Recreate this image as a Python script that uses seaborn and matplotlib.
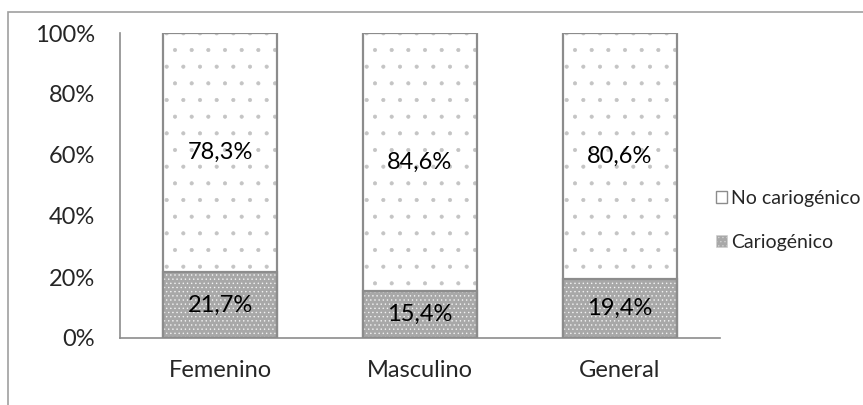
import pandas as pd
import numpy as np
import seaborn as sns
import matplotlib.pyplot as plt
from matplotlib.patches import Patch, Rectangle

# Datos del grafico
grupos = ['Femenino', 'Masculino', 'General']
cariogenico = [21.7, 15.4, 19.4]
no_cariogenico = [78.3, 84.6, 80.6]

BORDE = '#8c8c8c'
GRIS = '#a8a8a8'
FONT = 17

sns.set_style('white')
plt.rcParams['font.family'] = ['Lato', 'DejaVu Sans']
plt.rcParams['hatch.linewidth'] = 0.5

df = pd.DataFrame({'grupo': grupos, 'cario': cariogenico, 'no_cario': no_cariogenico})
df['total'] = df['cario'] + df['no_cario']

fig = plt.figure(figsize=(8.63, 4.05), dpi=100)
ax = fig.add_axes([120 / 863, 67 / 405, 600 / 863, 305 / 405])

# barra completa (no cariogenico) y encima la parte cariogenica
sns.barplot(data=df, x='grupo', y='total', color='white', width=0.57, ax=ax,
            edgecolor='#c4c4c4', linewidth=0)
n = len(grupos)
for p in ax.patches[:n]:
    p.set_hatch('.')
sns.barplot(data=df, x='grupo', y='cario', color=GRIS, width=0.57, ax=ax,
            edgecolor='#f2f2f2', linewidth=0)
for p in ax.patches[n:2 * n]:
    p.set_hatch('....')

# contornos
sns.barplot(data=df, x='grupo', y='total', fill=False, width=0.57, ax=ax,
            edgecolor=BORDE, linewidth=1.6)
sns.barplot(data=df, x='grupo', y='cario', fill=False, width=0.57, ax=ax,
            edgecolor=BORDE, linewidth=1.6)

def fmt(v):
    return f'{v:.1f}'.replace('.', ',') + '%'

for i, row in df.iterrows():
    ax.text(i, row['cario'] + row['no_cario'] / 2, fmt(row['no_cario']),
            ha='center', va='center', fontsize=FONT, color='black')
    ax.text(i, row['cario'] / 2, fmt(row['cario']),
            ha='center', va='center', fontsize=FONT, color='black')

ax.set_xlim(-0.5, 2.5)
ax.set_ylim(0, 100)
ax.set_yticks(np.arange(0, 101, 20))
ax.set_yticklabels([f'{t}%' for t in range(0, 101, 20)])
ax.tick_params(axis='y', length=0, pad=18, labelsize=FONT)
ax.tick_params(axis='x', length=0, pad=16, labelsize=FONT)
ax.set_xlabel('')
ax.set_ylabel('')
for s in ['top', 'right']:
    ax.spines[s].set_visible(False)
for s in ['left', 'bottom']:
    ax.spines[s].set_color(BORDE)
    ax.spines[s].set_linewidth(1.2)

handles = [
    Patch(facecolor='white', edgecolor=BORDE, linewidth=1.0, label='No cariogénico'),
    Patch(facecolor=GRIS, edgecolor='#d0d0d0', hatch='....', linewidth=0.5, label='Cariogénico'),
]
fig.legend(handles=handles, loc='upper left', bbox_to_anchor=(706 / 863, 1 - 180 / 405),
           frameon=False, fontsize=14, handlelength=0.57, handleheight=0.57,
           handletextpad=0.2, labelspacing=1.4, borderpad=0)

# marco exterior
fig.patches.append(Rectangle((8 / 863, -0.2), 2, 1.2 - 12 / 405, transform=fig.transFigure,
                             fill=False, edgecolor='#a0a0a0', linewidth=1.2))

fig.savefig('out.png', dpi=100)
